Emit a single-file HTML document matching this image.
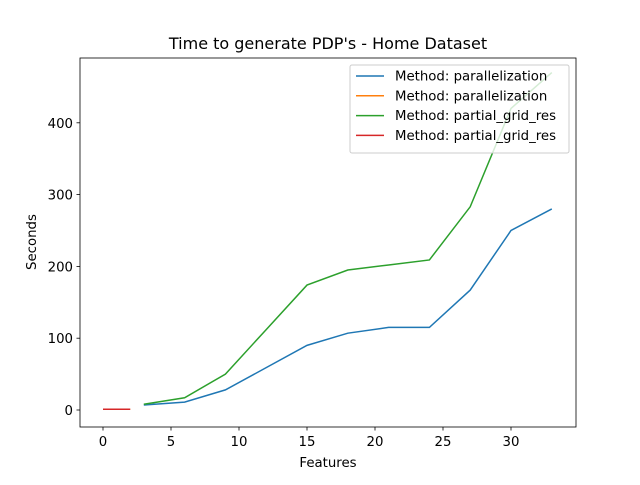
<!DOCTYPE html>
<html><head><meta charset="utf-8"><style>body{margin:0;background:#fff}svg{font-family:"DejaVu Sans","Liberation Sans",sans-serif}</style></head>
<body>
<svg id="c" width="640" height="480"></svg>
<script>
const xBlue=[3,6,9,12,15,18,21,24,27,30,33];
const yBlue=[7,11,28,59,90,107,115,115,167,250,280];
const xGreen=[3,6,9,12,15,18,21,24,27,30,33];
const yGreen=[8,17,50,112,174,195,202,209,283,420,470];
const xOrange=[0,1,2];
const yOrange=[1,1,1];
const xRed=[0,1,2];
const yRed=[1,1,1];
const xTicks=[0,5,10,15,20,25,30];
const yTicks=[0,100,200,300,400];
const legendLabels=["Method: parallelization","Method: parallelization","Method: partial_grid_res","Method: partial_grid_res"];
const colors=["#1f77b4","#ff7f0e","#2ca02c","#d62728"];
const L=80,R=576,T=58,B=427;
const sx=v=>103+v*13.6;
const sy=v=>410-v*0.718;
const svg=document.getElementById('c');
const NS='http://www.w3.org/2000/svg';
function mk(t,a,p){const e=document.createElementNS(NS,t);for(const k in a)e.setAttribute(k,a[k]);(p||svg).appendChild(e);return e;}
const defs=mk('defs',{});const cp=mk('clipPath',{id:'cl'},defs);mk('rect',{x:L,y:T,width:R-L,height:B-T},cp);
const series=[[xBlue,yBlue],[xOrange,yOrange],[xGreen,yGreen],[xRed,yRed]];
const names=['line-parallelization','line-parallelization-2','line-partial-grid-res','line-partial-grid-res-2'];
series.forEach((s,i)=>{const p=mk('polyline',{points:s[0].map((x,j)=>sx(x)+','+sy(s[1][j])).join(' '),fill:'none',stroke:colors[i],'stroke-width':1.5,'clip-path':'url(#cl)'});

});
const fr=mk('rect',{x:L,y:T,width:R-L,height:B-T,fill:'none',stroke:'#000','stroke-width':0.8});


xTicks.forEach(v=>{mk('line',{x1:sx(v),x2:sx(v),y1:B,y2:B+3.5,stroke:'#000','stroke-width':0.8});
const t=mk('text',{x:sx(v),y:B+19,'text-anchor':'middle','font-size':13.3});t.textContent=v;

});
yTicks.forEach(v=>{mk('line',{x1:L,x2:L-3.5,y1:sy(v),y2:sy(v),stroke:'#000','stroke-width':0.8});
const t=mk('text',{x:L-7,y:sy(v)+5,'text-anchor':'end','font-size':13.3});t.textContent=v;

});
let t=mk('text',{x:328,y:49,'text-anchor':'middle','font-size':16});t.textContent="Time to generate PDP's - Home Dataset";


t=mk('text',{x:328,y:467,'text-anchor':'middle','font-size':13.3});t.textContent="Features";


t=mk('text',{x:36,y:242,'text-anchor':'middle','font-size':13.3,transform:'rotate(-90 36 242)'});t.textContent="Seconds";


const lg=mk('rect',{x:350,y:65,width:219,height:88,fill:'#fff','fill-opacity':0.8,stroke:'#ccc',rx:2});


legendLabels.forEach((l,i)=>{const y=76+i*19.8;
mk('line',{x1:356,x2:384,y1:y,y2:y,stroke:colors[i],'stroke-width':1.5});
const tx=mk('text',{x:395,y:y+4.5,'font-size':13.3});tx.textContent=l;

});
</script>
</body></html>
